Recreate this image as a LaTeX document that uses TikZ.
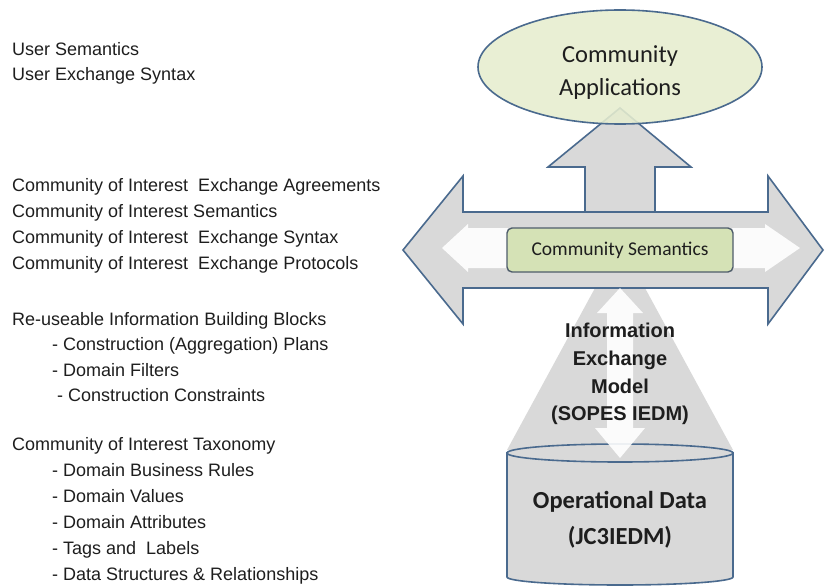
\documentclass[tikz,border=0pt]{standalone}
\usepackage{fontspec}
\setmainfont{Liberation Sans}
\newfontfamily\calibri{Carlito}
\usepackage{xcolor}
\usepackage{tikz}
\usetikzlibrary{shapes.geometric}
\definecolor{arrowgray}{HTML}{D9D9D9}
\definecolor{edgeblue}{HTML}{4A6A8E}
\definecolor{appgreen}{HTML}{E6EDCF}
\definecolor{semgreen}{HTML}{D5E2B6}
\definecolor{semedge}{HTML}{4F5D6B}
\definecolor{ink}{HTML}{1E1E1E}
\tikzset{
  bigarrow/.style={fill=arrowgray,draw=edgeblue,line width=1.6pt,line join=miter},
  glow/.style={fill=white,fill opacity=0.9},
  listtxt/.style={anchor=north west,align=left,inner sep=0pt,text=ink,font=\fontsize{18}{26}\selectfont},
  appsell/.style={ellipse,draw=edgeblue,line width=1.6pt,fill=appgreen,fill opacity=0.88,minimum width=284pt,minimum height=114pt,inner sep=0pt},
  semboxk/.style={draw=semedge,line width=1.4pt,fill=semgreen,rounded corners=5pt,minimum width=226pt,minimum height=44pt,inner sep=0pt,font=\calibri\fontsize{19.5}{22}\selectfont,text=ink},
  modeltxt/.style={align=center,inner sep=0pt,text=ink,font=\bfseries\fontsize{20}{27.7}\selectfont},
  dbtxt/.style={align=center,inner sep=0pt,text=ink,font=\calibri\bfseries\fontsize{24.5}{36}\selectfont},
  apptxt/.style={align=center,inner sep=0pt,text=ink,font=\calibri\fontsize{24.5}{33}\selectfont},
}
\begin{document}
\begin{tikzpicture}[x=1pt,y=-1pt]
\useasboundingbox (0,0) rectangle (825,586);
\fill[white] (0,0) rectangle (825,586);

% left column
\node[listtxt,font=\fontsize{18}{25}\selectfont] (user) at (12,42) {User Semantics\\User Exchange Syntax};
\node[listtxt] (coi) at (12,178) {Community of Interest\ \ Exchange Agreements\\
  Community of Interest Semantics\\
  Community of Interest\ \ Exchange Syntax\\
  Community of Interest\ \ Exchange Protocols};
\node[listtxt,font=\fontsize{18}{25.5}\selectfont] (blocks) at (12,312) {Re-useable Information Building Blocks\\
  \hspace*{40pt}- Construction (Aggregation) Plans\\
  \hspace*{40pt}- Domain Filters\\
  \hspace*{45pt}- Construction Constraints};
\node[listtxt] (taxo) at (12,437) {Community of Interest Taxonomy\\
  \hspace*{40pt}- Domain Business Rules\\
  \hspace*{40pt}- Domain Values\\
  \hspace*{40pt}- Domain Attributes\\
  \hspace*{40pt}- Tags and\ \ Labels\\
  \hspace*{40pt}- Data Structures \& Relationships};

% model wedge behind everything
\fill[arrowgray] (620,242) -- (733,450) -- (507,450) -- cycle;

% up arrow, then left-right arrow over it
\draw[bigarrow] (585,212) -- (585,167) -- (548,167) -- (620,108) -- (691,167) -- (655,167) -- (655,212);
\draw[bigarrow] (403,250) -- (463,176) -- (463,212) -- (768,212) -- (768,176) -- (823,250)
  -- (768,324) -- (768,288) -- (463,288) -- (463,324) -- cycle;
\fill[glow] (442,248) -- (468,224) -- (468,228) -- (765,228) -- (765,224) -- (800,248)
  -- (765,272) -- (765,268) -- (468,268) -- (468,272) -- cycle;
\node[semboxk] (sem) at (620,250) {Community Semantics};

% operational data store
\draw[bigarrow] (507,453) -- (507,577) arc[start angle=180,end angle=0,x radius=113,y radius=8] -- (733,453) -- cycle;
\draw[bigarrow] (620,453) ellipse[x radius=113,y radius=9];

% exchange between store and semantics
\fill[glow] (620,288) -- (643,313) -- (633,313) -- (633,428) -- (645,428) -- (620,458)
  -- (595,428) -- (607,428) -- (607,313) -- (597,313) -- cycle;
\node[modeltxt] (iedm) at (620,374) {Information\\Exchange\\Model\\(SOPES IEDM)};
\node[dbtxt] (opdata) at (620,520) {Operational Data\\(JC3IEDM)};

% community applications
\node[appsell,text opacity=1] (apps) at (620,67) {};
\node[apptxt] (appstxt) at (620,72.5) {Community\\Applications};
\end{tikzpicture}
\end{document}
